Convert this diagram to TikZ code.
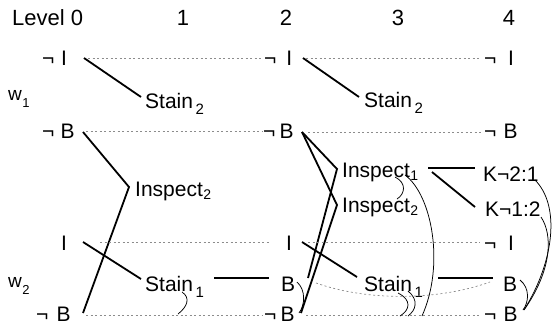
\documentclass[tikz,border=0pt]{standalone}
\usepackage{fontspec}
\setmainfont{Liberation Sans}
\newcommand{\stsub}[1]{\kern2.5pt\raisebox{-6pt}{\fontsize{15}{15}\selectfont #1}}
\newcommand{\insub}[1]{\kern0.5pt\raisebox{-3pt}{\fontsize{14}{14}\selectfont #1}}
\newcommand{\wsub}[1]{\kern0.5pt\raisebox{-7pt}{\fontsize{13}{13}\selectfont #1}}
\begin{document}
\begin{tikzpicture}[x=1pt,y=-1pt,
  lab/.style={anchor=base west, inner sep=0pt, font=\fontsize{21}{23}\selectfont},
  hdr/.style={anchor=base, inner sep=0pt, font=\fontsize{22}{24}\selectfont},
  act/.style={line width=1.8pt},
  noop/.style={black!45, dash pattern=on 2pt off 2.5pt, line width=0.7pt},
  mutex/.style={line width=0.75pt}]
\useasboundingbox (0,0) rectangle (552,330);

% header
\node[hdr, anchor=base west] (lv0) at (12,25) {Level 0};
\node[hdr] (lv1) at (183,25) {1};
\node[hdr] (lv2) at (286,25) {2};
\node[hdr] (lv3) at (398,25) {3};
\node[hdr] (lv4) at (509,25) {4};

% worlds
\node[lab, font=\fontsize{19}{20}\selectfont] (w1) at (8,100) {w\wsub{1}};
\node[lab, font=\fontsize{19}{20}\selectfont] (w2) at (8,287) {w\wsub{2}};

% level 0
\node[lab] (p0nI) at (42,65) {¬\kern6.8pt I};
\node[lab] (p0nB) at (42,138) {¬\kern6.2pt B};
\node[lab] (p0I) at (61,250) {I};
\node[lab] (p0nBb) at (36,321) {¬\kern8.2pt B};

% level 1
\node[lab] (a1s2) at (145,108) {Stain\stsub{2}};
\node[lab] (a1i2) at (135,196) {Inspect\insub{2}};
\node[lab] (a1s1) at (145,291) {Stain\stsub{1}};

% level 2
\node[lab] (p2nI) at (264,65) {¬\kern9.8pt I};
\node[lab] (p2nB) at (263,138) {¬\kern4.2pt B};
\node[lab] (p2I) at (286,250) {I};
\node[lab] (p2B) at (281,291) {B};
\node[lab] (p2nBb) at (264,321) {¬\kern4.2pt B};

% level 3
\node[lab] (a3s2) at (364,107) {Stain\stsub{2}};
\node[lab] (a3i1) at (342,177) {Inspect\insub{1}};
\node[lab] (a3i2) at (342,212) {Inspect\insub{2}};
\node[lab] (a3s1) at (364,291) {Stain\stsub{1}};

% level 4
\node[lab] (p4nI) at (484,65) {¬\kern11.8pt I};
\node[lab] (p4nB) at (484,138) {¬\kern7.2pt B};
\node[lab] (k21) at (483,181) {K¬2:1};
\node[lab] (k12) at (485,216) {K¬1:2};
\node[lab] (p4nIb) at (484,250) {¬\kern11.8pt I};
\node[lab] (p4B) at (503,291) {B};
\node[lab] (p4nBb) at (484,321) {¬\kern7.2pt B};

% connector end points
\coordinate (c0nI) at (84,58);
\coordinate (c0nB) at (83,132);
\coordinate (c0I) at (83,242);
\coordinate (c0nBb) at (83,313);
\coordinate (v1s2) at (141,97);
\coordinate (v1i2) at (129,187);
\coordinate (v1s1) at (141,279);
\coordinate (e1s1) at (214,278);
\coordinate (c2B) at (269,278);
\coordinate (c2nI) at (303,58);
\coordinate (c2nB) at (302,132);
\coordinate (c2I) at (302,242);
\coordinate (c2Bin) at (308,278);
\coordinate (c2nBbin) at (301,313);
\coordinate (v3s2) at (359,97);
\coordinate (v3i1) at (337,169);
\coordinate (v3i2) at (337,205);
\coordinate (v3s1) at (357,277);
\coordinate (e3s1) at (438,278);
\coordinate (c4B) at (493,278);
\coordinate (e3i1a) at (428,168);
\coordinate (e3i1b) at (432,172);
\coordinate (ck21) at (475,168);
\coordinate (ck12) at (475,207);

% action edges
\draw[act] (c0nI) -- (v1s2);
\draw[act] (c0nB) -- (v1i2) -- (c0nBb);
\draw[act] (c0I) -- (v1s1);
\draw[act] (e1s1) -- (c2B);
\draw[act] (c2nI) -- (v3s2);
\draw[act] (c2nB) -- (v3i1) -- (c2Bin);
\draw[act] (c2nB) -- (v3i2) -- (c2nBbin);
\draw[act] (c2I) -- (v3s1);
\draw[act] (e3s1) -- (c4B);
\draw[act] (e3i1a) -- (ck21);
\draw[act] (e3i1b) -- (ck12);

% no-op (maintenance) lines
\coordinate (n0nIa) at (88,58);   \coordinate (n0nIb) at (262,58);
\coordinate (n2nIa) at (306,58);  \coordinate (n2nIb) at (481,58);
\coordinate (n0nBa) at (86,131);  \coordinate (n0nBb) at (262,131);
\coordinate (n2nBa) at (308,132); \coordinate (n2nBb) at (482,132);
\coordinate (n0Ia) at (100,242);  \coordinate (n0Ib) at (270,242);
\coordinate (n2Ia) at (308,242);  \coordinate (n2Ib) at (480,242);
\coordinate (n0nBba) at (86,315); \coordinate (n0nBbb) at (262,315);
\coordinate (n2nBba) at (306,315);\coordinate (n2nBbb) at (480,315);
\coordinate (n2Ba) at (316,283);  \coordinate (n4Bb) at (490,282);
\draw[noop] (n0nIa) -- (n0nIb);
\draw[noop] (n2nIa) -- (n2nIb);
\draw[noop] (n0nBa) -- (n0nBb);
\draw[noop] (n2nBa) -- (n2nBb);
\draw[noop] (n0Ia) -- (n0Ib);
\draw[noop] (n2Ia) -- (n2Ib);
\draw[noop] (n0nBba) -- (n0nBbb);
\draw[noop] (n2nBba) -- (n2nBbb);
\draw[noop] (n2Ba) .. controls (370,302) and (440,300) .. (n4Bb);

% mutex arcs
\coordinate (m1a) at (182,292); \coordinate (m1b) at (178,314);
\draw[mutex] (m1a) .. controls (191,298) and (187,307) .. (m1b);
\coordinate (m2a) at (297,282); \coordinate (m2b) at (299,313);
\draw[mutex] (m2a) .. controls (306,290) and (305,305) .. (m2b);
\coordinate (m4a) at (520,280); \coordinate (m4b) at (523,310);
\draw[mutex] (m4a) .. controls (530,288) and (529,302) .. (m4b);
\coordinate (mia) at (395,177); \coordinate (mib) at (397,199);
\draw[mutex] (mia) .. controls (407,183) and (405,194) .. (mib);
\coordinate (mla) at (405,175); \coordinate (mlb) at (422,316);
\draw[mutex] (mla) .. controls (432,195) and (445,265) .. (mlb);
\coordinate (msa) at (398,293); \coordinate (msb) at (400,316);
\draw[mutex] (msa) .. controls (412,300) and (410,310) .. (msb);
\coordinate (mta) at (408,291); \coordinate (mtb) at (408,316);
\draw[mutex] (mta) .. controls (419,300) and (416,310) .. (mtb);
\coordinate (mka) at (535,180); \coordinate (mkb) at (524,310);
\draw[mutex] (mka) .. controls (560,205) and (555,260) .. (mkb);
\coordinate (mkc) at (541,217);
\draw[mutex] (mkc) .. controls (553,235) and (552,270) .. (mkb);
\end{tikzpicture}
\end{document}
